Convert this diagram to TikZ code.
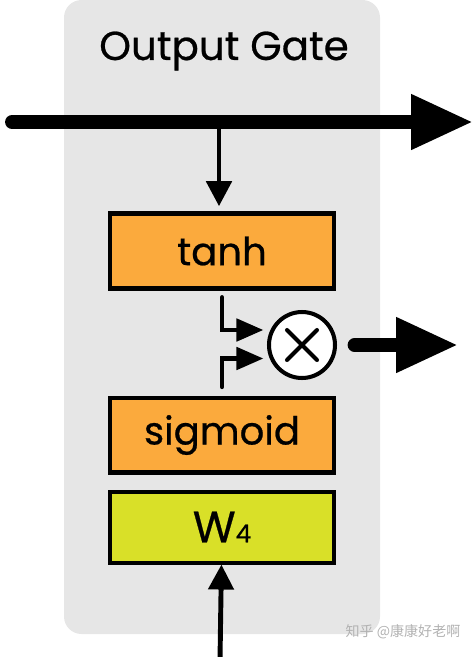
\documentclass[tikz,border=0pt]{standalone}
\usepackage{fontspec}
\setmainfont{Poppins}[FakeBold=0.6]
\newfontfamily\cjk{Noto Sans CJK SC}
\usetikzlibrary{positioning,arrows.meta}
\definecolor{panelgray}{RGB}{230,230,230}
\definecolor{gateorange}{RGB}{251,170,61}
\definecolor{weightlime}{RGB}{217,224,40}
\tikzset{gate box/.style={rectangle,draw,line width=2.3pt,fill=gateorange,minimum width=4.5cm,minimum height=1.5cm,inner sep=0pt,font=\fontsize{22}{26}\selectfont},
	mult node/.style={circle,draw,fill=white,line width=2.3pt,minimum size=1.32cm,inner sep=0pt,
		path picture={\draw[line width=2.3pt,line cap=round]
			([shift={(-0.3cm,-0.3cm)}]path picture bounding box.center) -- ([shift={(0.3cm,0.3cm)}]path picture bounding box.center)
			([shift={(-0.3cm,0.3cm)}]path picture bounding box.center) -- ([shift={(0.3cm,-0.3cm)}]path picture bounding box.center);}},
	thick arrow/.style={line width=7.9pt,line cap=round,-{Triangle[length=1.24cm,width=1.04cm]}},
	thin arrow/.style={line width=2.8pt,line cap=round,-{Triangle[length=0.5cm,width=0.5cm]}},
	in arrow/.style={line width=2.8pt,line cap=round,-{Triangle[length=0.54cm,width=0.44cm]}},
}

\begin{document}
\begin{tikzpicture}[x=0.02cm,y=-0.02cm]
				\useasboundingbox (0,0) rectangle (474,657);
				\fill[panelgray,rounded corners=0.35cm] (64,0) rectangle (380,634);
				
				\node[font=\fontsize{23}{27}\selectfont] (title) at (224,51) {Output Gate};
				\node[gate box] (tanh) at (222,251) {tanh};
				\node[gate box] (sigm) [below=2.1cm of tanh] {sigmoid};
				\node[gate box,fill=weightlime,minimum height=1.42cm] (w4) [below=0.3cm of sigm] {\fontsize{25}{28}\selectfont W\fontsize{14}{16}\selectfont 4};
				\node[mult node] (mult) at (302,345) {};
				
				\coordinate (cell in) at (12,122);
				\coordinate (cell out) at (473,122);
				\coordinate (tap) at (219,122);
				\coordinate (h out) at (458,345);
				\coordinate (x in) at (220,660);
				
				\draw[thick arrow] (cell in) -- (cell out);
				\draw[thin arrow,shorten >=3pt] (tap) -- (tanh.north -| tap);
				\draw[in arrow,shorten <=4pt,shorten >=2pt] (tanh.south) |- ([yshift=0.3cm]mult.west);
				\draw[in arrow,shorten <=5pt,shorten >=2pt] (sigm.north) |- ([yshift=-0.27cm]mult.west);
				\draw[thick arrow,shorten <=10pt] (mult) -- (h out);
				\draw[thin arrow] (x in) -- (w4);
				
				\node[text=black!30,font=\cjk\fontsize{8}{10}\selectfont] (mark) at (403,632) {知乎 @康康好老啊};
				
			\end{tikzpicture}
\end{document}
